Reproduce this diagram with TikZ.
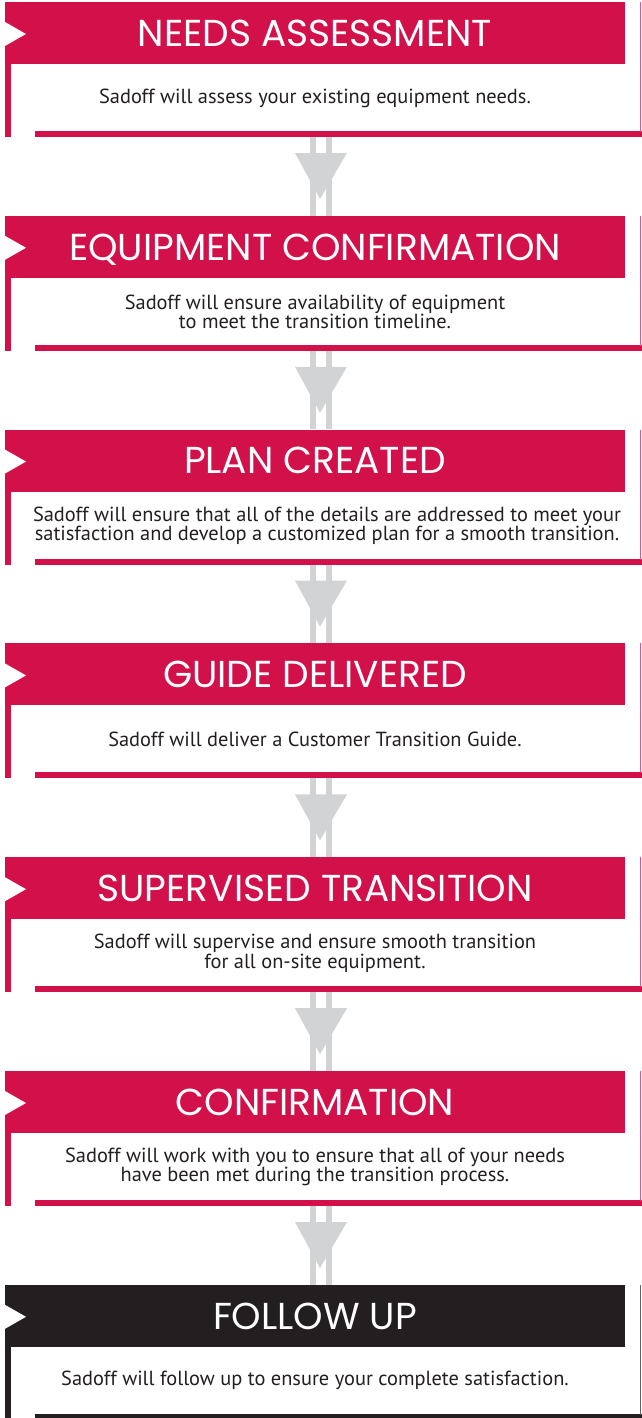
\documentclass[tikz,border=0pt]{standalone}
\usepackage{fontspec}
\setmainfont{PT Sans}
\newfontfamily\headfont{Poppins}
\usetikzlibrary{calc}
\definecolor{crimson}{HTML}{D2104A}
\definecolor{ink}{HTML}{231F20}
\definecolor{arrowgray}{HTML}{D1D3D4}
\tikzset{
  head/.style={minimum width=620pt, minimum height=62pt, inner sep=0pt, text depth=0pt,
    text=white, font=\headfont\fontsize{37.5}{40}\selectfont},
  body/.style={align=center, text=ink, inner sep=0pt, font=\fontsize{20.4}{19.5}\selectfont},
  bar/.style={arrowgray, line width=6pt},
}
\begin{document}
\begin{tikzpicture}[x=1pt,y=-1pt]
  \useasboundingbox (0,0) rectangle (642,1418);

  % steps
  \foreach \i/\hd/\tx/\bx/\col in {
      1/{NEEDS ASSESSMENT}/{Sadoff will assess your existing equipment needs.}/315/crimson,
      2/{EQUIPMENT CONFIRMATION}/{Sadoff will ensure availability of equipment\\to meet the transition timeline.}/315/crimson,
      3/{PLAN CREATED}/{Sadoff will ensure that all of the details are addressed to meet your\\satisfaction and develop a customized plan for a smooth transition.}/327/crimson,
      4/{GUIDE DELIVERED}/{Sadoff will deliver a Customer Transition Guide.}/315/crimson,
      5/{SUPERVISED TRANSITION}/{Sadoff will supervise and ensure smooth transition\\for all on-site equipment.}/315/crimson,
      6/{CONFIRMATION}/{Sadoff will work with you to ensure that all of your needs\\have been met during the transition process.}/315/crimson,
      7/{FOLLOW UP}/{Sadoff will follow up to ensure your complete satisfaction.}/315/ink}{
    \pgfmathsetmacro\T{2+213.8*(\i-1)}
    \node[head, fill=\col] (h\i) at (315,\T+31) {\hd};
    \fill[white] (5,\T+20) -- (26,\T+32) -- (5,\T+44) -- cycle;
    \fill[\col] (5,\T+62) rectangle (11,\T+135);
    \fill[\col] (35,\T+129) rectangle (642,\T+135);
    \draw[\col!70, line width=1.2pt] (640.4,\T) -- (640.4,\T+130);
    \node[body] (t\i) at (\bx,\T+96) {\tx};
    \coordinate (s\i) at (321,\T+135);
  }

  % arrows
  \foreach \i/\j in {1/2,2/3,3/4,4/5,5/6,6/7}{
    \draw[bar] ($(s\i)+(-8,0)$) -- ($(s\i |- h\j.north)+(-8,0)$);
    \draw[bar] ($(s\i)+(8,0)$) -- ($(s\i |- h\j.north)+(8,0)$);
    \fill[arrowgray] ($(s\i)+(-26,16)$) -- ($(s\i)+(26,16)$) -- ($(s\i)+(-1,62)$) -- cycle;
  }
\end{tikzpicture}
\end{document}
